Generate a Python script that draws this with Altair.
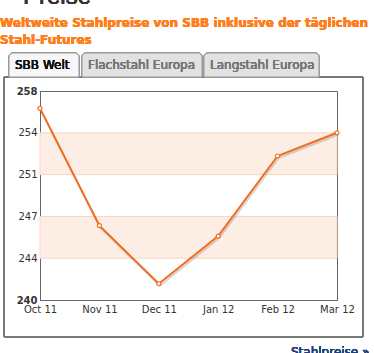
import altair as alt
import pandas as pd

months = ["Oct 11", "Nov 11", "Dec 11", "Jan 12", "Feb 12", "Mar 12"]
prices = [256.5, 246.4, 241.4, 245.5, 252.4, 254.4]
y_ticks = [240, 243.6, 247.2, 250.8, 254.4, 258]
band_lo = [243.6, 250.8]
band_hi = [247.2, 254.4]

title_lines = ["Weltweite Stahlpreise von SBB inklusive der täglichen", "Stahl-Futures"]
tabs = ["SBB Welt", "Flachstahl Europa", "Langstahl Europa"]

df = pd.DataFrame({"month": months, "price": prices})
bands = pd.DataFrame({"lo": band_lo, "hi": band_hi})

ORANGE = "#f26c1c"
FONT = "DejaVu Sans"

x_enc = alt.X("month:N", sort=months,
              scale=alt.Scale(type="point", padding=0),
              axis=alt.Axis(title=None, labelAngle=0, labelFont=FONT, labelFontSize=10,
                            labelColor="#333", domainColor="#666", ticks=False,
                            labelPadding=4, grid=False, labelFlush=False))
y_scale = alt.Scale(domain=[240, 258], nice=False, zero=False)

band_layer = alt.Chart(bands).mark_rect(color="#fdeee5", stroke="#fbd3bd", strokeWidth=1).encode(
    y=alt.Y("lo:Q", scale=y_scale, axis=alt.Axis(
        title=None, values=y_ticks, format=".0f", labelFont=FONT, labelFontSize=10,
        labelColor="#333", domainColor="#666", ticks=False, grid=False, labelPadding=3,
        labelFlush=False,
        labelFontWeight={"condition": {"test": "datum.value == 240 || datum.value == 258",
                                       "value": "bold"}, "value": "normal"})),
    y2="hi:Q",
    x=alt.value(0), x2=alt.value(297),
)

shadow = alt.Chart(df).mark_line(color="#888", opacity=0.35, strokeWidth=2,
                                 xOffset=1, yOffset=2).encode(
    x=x_enc, y=alt.Y("price:Q", scale=y_scale))
line = alt.Chart(df).mark_line(color=ORANGE, strokeWidth=2).encode(
    x=x_enc, y=alt.Y("price:Q", scale=y_scale))
pts = alt.Chart(df).mark_point(shape="circle", size=16, filled=True, fill="white",
                               stroke=ORANGE, strokeWidth=1.2, opacity=1).encode(
    x=x_enc, y=alt.Y("price:Q", scale=y_scale))

# decorations (positions relative to plot origin)
preise = alt.Chart(df).mark_text(text="Preise", font="Liberation Sans", fontSize=24,
                                 color="#333", align="left", baseline="alphabetic").encode(
    x=alt.value(-17), y=alt.value(-87))
t1 = alt.Chart(df).mark_text(text=title_lines[0], font=FONT, fontSize=12, fontWeight="bold",
                             color="#ff7f1e", align="left", baseline="alphabetic").encode(
    x=alt.value(-40), y=alt.value(-64))
t2 = alt.Chart(df).mark_text(text=title_lines[1], font=FONT, fontSize=12, fontWeight="bold",
                             color="#ff7f1e", align="left", baseline="alphabetic").encode(
    x=alt.value(-40), y=alt.value(-47))

box = alt.Chart(df).mark_rect(fill=None, stroke="#777", strokeWidth=1).encode(
    x=alt.value(-36), x2=alt.value(323), y=alt.value(-14), y2=alt.value(246))

tab_x = [(-31, 39), (42, 162), (164, 279)]
tab_layers = []
for i, (a, b) in enumerate(tab_x):
    fill = "#f7f7f7" if i == 0 else "#e2e2e2"
    tab_layers.append(alt.Chart(df).mark_rect(fill=fill, stroke="#999", strokeWidth=1,
                                              cornerRadiusTopLeft=4, cornerRadiusTopRight=4).encode(
        x=alt.value(a), x2=alt.value(b), y=alt.value(-38), y2=alt.value(-14)))
    tab_layers.append(alt.Chart(df).mark_text(text=tabs[i], font=FONT, fontSize=12,
                                              fontWeight="normal",
                                              color="#111" if i == 0 else "#777",
                                              align="left", baseline="alphabetic").encode(
        x=alt.value(a + 6), y=alt.value(-22)))

link = alt.Chart(df).mark_text(text="Stahlpreise »", font=FONT, fontSize=12, color="#1d3f7a",
                               fontWeight="normal",
                               align="left", baseline="alphabetic").encode(
    x=alt.value(251), y=alt.value(265))

chart = alt.layer(band_layer, shadow, line, pts, preise, t1, t2, box, *tab_layers, link).properties(
    width=297, height=209,
    padding={"left": 40, "top": 91, "right": 37, "bottom": 53},
    autosize=alt.AutoSizeParams(type="none"),
).configure_view(stroke="#666", strokeWidth=1)

chart.save("out.html", embed_options={"renderer": "svg", "actions": False})
